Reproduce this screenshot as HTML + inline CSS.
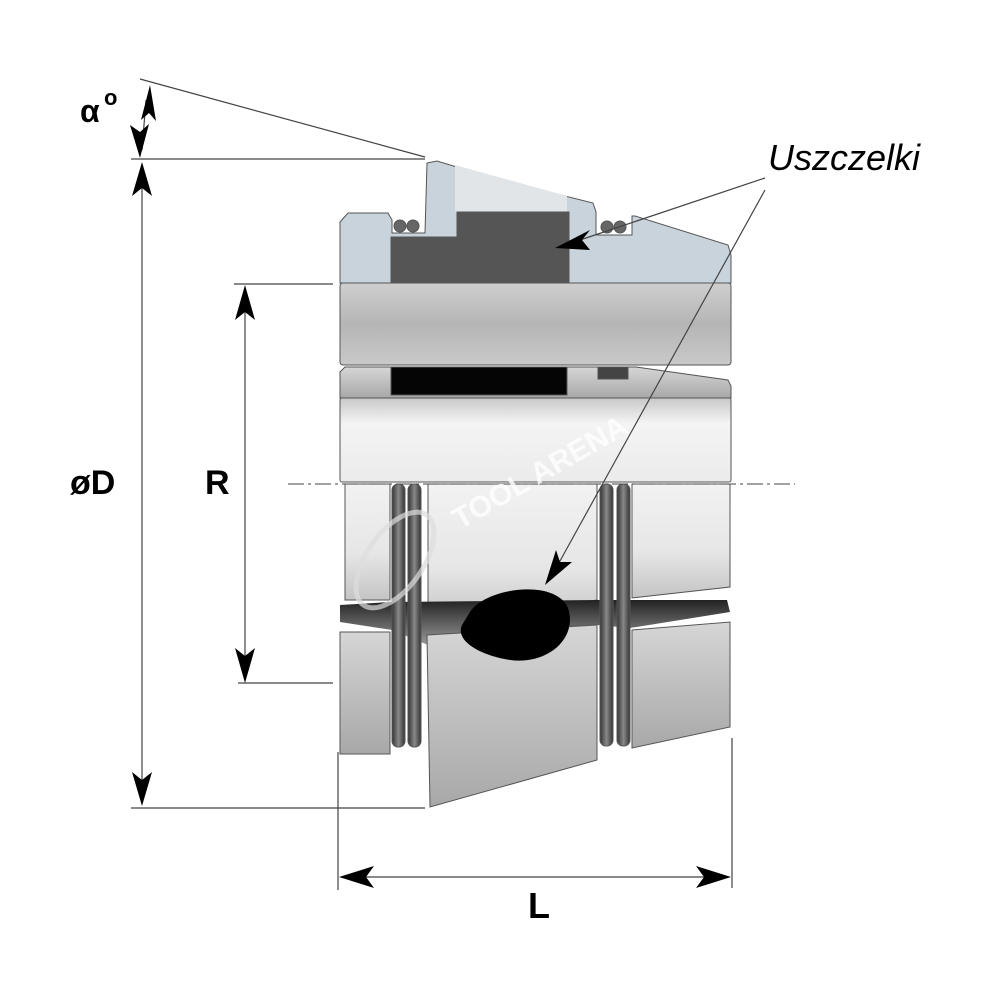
<!DOCTYPE html>
<html><head><meta charset="utf-8"><style>html,body{margin:0;padding:0;background:#fff}svg{display:block}</style></head>
<body>
<svg width="1000" height="1000" viewBox="0 0 1000 1000" xmlns="http://www.w3.org/2000/svg">
<defs>
<linearGradient id="g1" x1="0" y1="0" x2="0" y2="1"><stop offset="0" stop-color="#cfcfcf"/><stop offset="0.5" stop-color="#b5b5b5"/><stop offset="1" stop-color="#c9c9c9"/></linearGradient>
<linearGradient id="g2" x1="0" y1="0" x2="0" y2="1"><stop offset="0" stop-color="#c8c8c8"/><stop offset="0.3" stop-color="#f4f4f4"/><stop offset="1" stop-color="#ebebeb"/></linearGradient>
<linearGradient id="g3" x1="0" y1="0" x2="0" y2="1"><stop offset="0" stop-color="#f2f2f2"/><stop offset="0.6" stop-color="#e6e6e6"/><stop offset="1" stop-color="#c4c4c4"/></linearGradient>
<linearGradient id="g4" x1="0" y1="0" x2="0" y2="1"><stop offset="0" stop-color="#d6d6d6"/><stop offset="1" stop-color="#a8a8a8"/></linearGradient>
<linearGradient id="band" x1="0" y1="0" x2="0" y2="1"><stop offset="0" stop-color="#222"/><stop offset="1" stop-color="#999"/></linearGradient>
<linearGradient id="ring" x1="0" y1="0" x2="1" y2="0"><stop offset="0" stop-color="#333"/><stop offset="0.5" stop-color="#888"/><stop offset="1" stop-color="#333"/></linearGradient>
</defs>
<g stroke="#555" stroke-width="1">
<polygon points="340,222 348,213 388,213 392,220 392,233 425,233 427,163 437,161 493,178 593,203 596,212 596,235 632,235 632,216 635,216 728,245 731,255 731,283 340,283" fill="#c9d3db"/>
<polygon points="455,165 567,196 567,212 455,212" fill="#e2e5e7" stroke="none"/>
<polygon points="391,237 457,237 457,212 569,212 569,283 391,283" fill="#555"/>
<circle cx="400" cy="226" r="6" fill="#666"/><circle cx="413" cy="226" r="6" fill="#666"/>
<circle cx="607" cy="227" r="6" fill="#666"/><circle cx="620" cy="227" r="6" fill="#666"/>
<rect x="340" y="283" width="391" height="82" rx="3" fill="url(#g1)"/>
<polygon points="340,372 345,367 636,367 728,380 731,386 731,398 340,398" fill="url(#g4)"/>
<rect x="391" y="367" width="176" height="28" fill="#050505"/>
<rect x="598" y="367" width="30" height="12" fill="#444"/>
<rect x="340" y="398" width="391" height="84" rx="2" fill="url(#g2)"/>
<rect x="345" y="484" width="45" height="116" fill="url(#g3)"/>
<polygon points="428,484 597,484 597,600 428,625" fill="url(#g3)"/>
<polygon points="632,484 730,484 730,587 632,598" fill="url(#g3)"/>
<polygon points="340,605 390,602 597,600 727,600 730,612 630,628 597,625 440,640 428,645 392,630 340,622" fill="url(#band)" stroke="none"/>
<rect x="340" y="632" width="50" height="122" fill="url(#g4)"/>
<polygon points="427,635 597,625 597,760 430,807" fill="url(#g4)"/>
<polygon points="632,630 730,622 730,727 632,748" fill="url(#g4)"/>
<rect x="392" y="484" width="13" height="263" rx="6" fill="url(#ring)"/>
<rect x="408" y="484" width="13" height="263" rx="6" fill="url(#ring)"/>
<rect x="600" y="484" width="13" height="262" rx="6" fill="url(#ring)"/>
<rect x="617" y="484" width="13" height="262" rx="6" fill="url(#ring)"/>
</g>
<path d="M470,612 C485,588 555,578 568,608 C578,638 548,665 510,660 C478,655 455,640 462,625 Z" fill="#000"/>
<line x1="288" y1="484" x2="795" y2="484" stroke="#444" stroke-width="1" stroke-dasharray="16,4,3,4"/>
<text x="460" y="530" transform="rotate(-30 460 530)" font-family="Liberation Sans, sans-serif" font-weight="bold" font-size="30" fill="#fff" opacity="0.8">TOOL ARENA</text>
<ellipse cx="395" cy="560" rx="55" ry="28" transform="rotate(-55 395 560)" fill="none" stroke="#ddd" stroke-width="5" opacity="0.7"/>
<g stroke="#444" stroke-width="1.2" fill="none">
<line x1="140" y1="79" x2="425" y2="157"/>
<line x1="131" y1="159" x2="425" y2="159"/>
<line x1="146" y1="100" x2="142" y2="150"/>
<line x1="142" y1="165" x2="142" y2="800"/>
<line x1="131" y1="808" x2="425" y2="808"/>
<line x1="245" y1="295" x2="245" y2="672"/>
<line x1="234" y1="284" x2="333" y2="284"/>
<line x1="238" y1="683" x2="333" y2="683"/>
<line x1="338" y1="752" x2="338" y2="890"/>
<line x1="732" y1="738" x2="732" y2="888"/>
<line x1="350" y1="877" x2="720" y2="877"/>
<line x1="765" y1="178" x2="580" y2="240"/>
<line x1="765" y1="190" x2="555" y2="570"/>
</g>
<g fill="#000">
<polygon points="150,85 141,120 149,113 156,121"/>
<polygon points="140,158 130,125 140,132 149,124"/>
<polygon points="142,162 132,196 142,188 152,196"/>
<polygon points="142,806 132,772 142,780 152,772"/>
<polygon points="245,285 235,320 245,312 255,320"/>
<polygon points="245,683 235,648 245,656 255,648"/>
<polygon points="339,877 374,866 366,877 374,888"/>
<polygon points="731,877 696,866 704,877 696,888"/>
<polygon points="555,248 590,230 582,240 590,250"/>
<polygon points="545,585 556,550 560,562 572,562"/>
</g>
<g font-family="Liberation Sans, sans-serif" font-weight="bold" fill="#000">
<text x="80" y="122" font-size="32">α</text>
<text x="104" y="105" font-size="22">o</text>
<text x="70" y="494" font-size="34">øD</text>
<text x="205" y="494" font-size="34">R</text>
<text x="528" y="918" font-size="36">L</text>
</g>
<text x="768" y="170" font-family="Liberation Sans, sans-serif" font-style="italic" font-size="36" fill="#000">Uszczelki</text>
</svg>
</body></html>
